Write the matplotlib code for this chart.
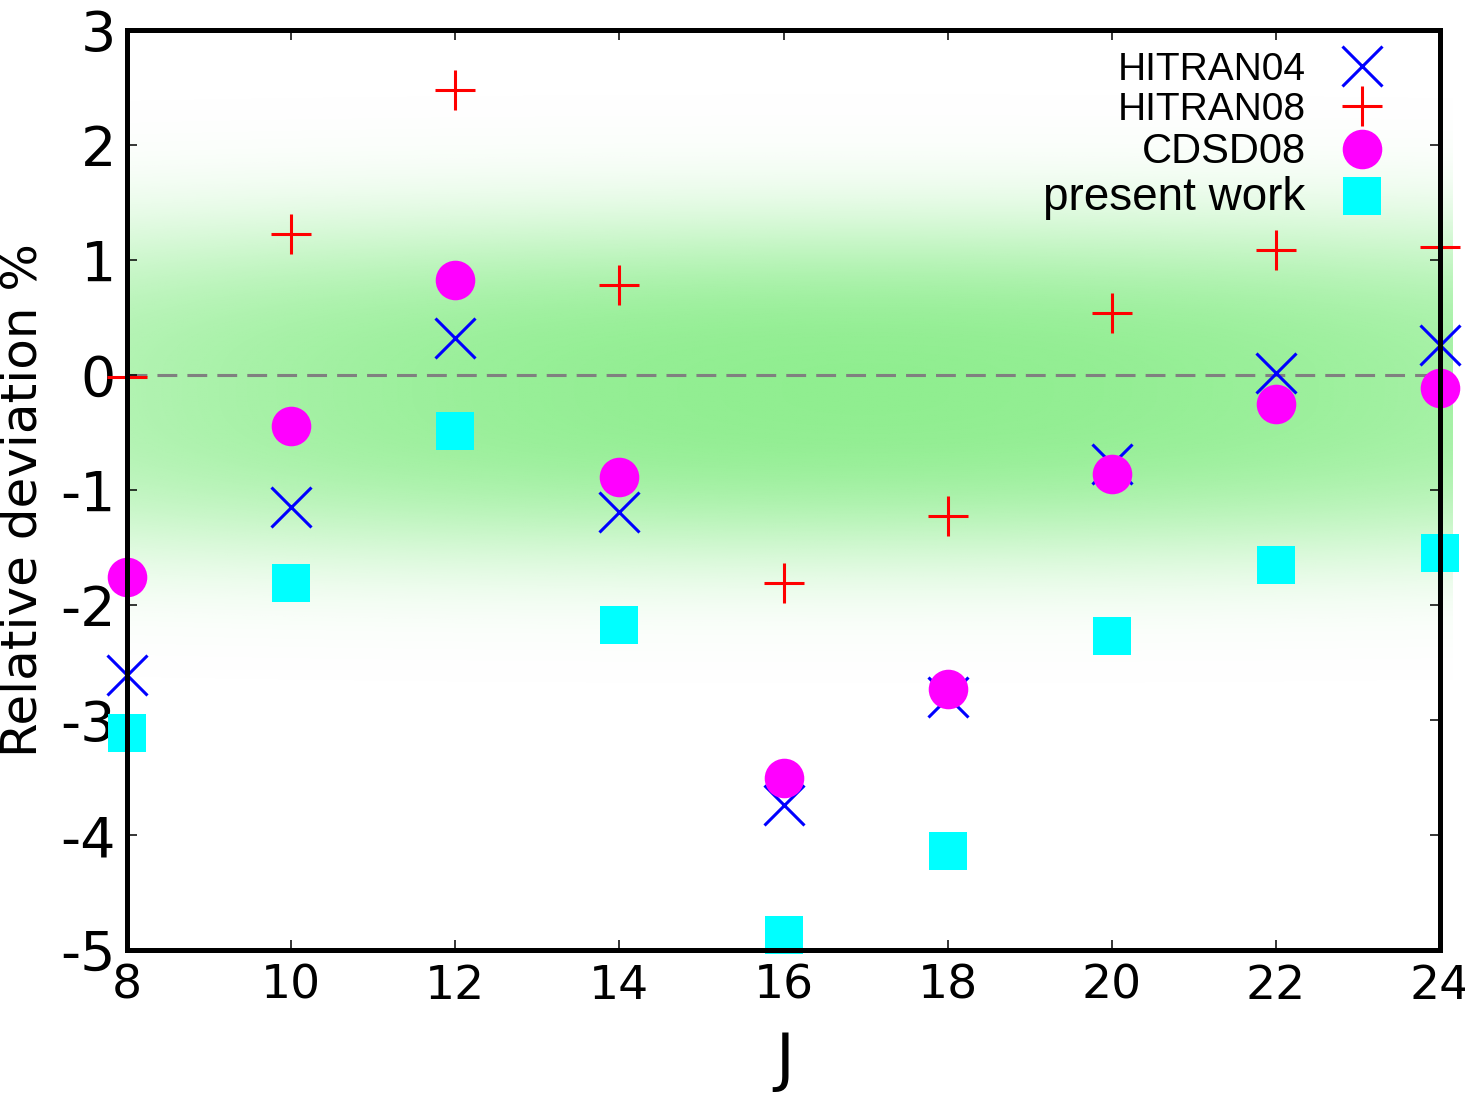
import numpy as np
import matplotlib
matplotlib.use('Agg')
import matplotlib.pyplot as plt
from matplotlib.colors import to_rgb

# data
J = [8, 10, 12, 14, 16, 18, 20, 22, 24]
hitran04 = [-2.61, -1.15, 0.32, -1.19, -3.74, -2.80, -0.77, 0.02, 0.26]
hitran08 = [-0.02, 1.23, 2.48, 0.78, -1.81, -1.23, 0.54, 1.09, 1.11]
cdsd08 = [-1.76, -0.44, 0.83, -0.89, -3.50, -2.73, -0.86, -0.25, -0.11]
present = [-3.11, -1.81, -0.49, -2.17, -4.87, -4.14, -2.27, -1.65, -1.55]

xticks = [8, 10, 12, 14, 16, 18, 20, 22, 24]
yticks = [-5, -4, -3, -2, -1, 0, 1, 2, 3]
ytick_labels = ['-5', '-4', '-3', '-2', '-1', '0', '1', '2', '3']


def main():
    fig = plt.figure(figsize=(14.65, 10.94), dpi=100)
    ax = fig.add_axes([0.0867, 0.1316, 0.8963, 0.841])

    # green glow behind the points
    gx = np.linspace(8, 24.15, 300)
    gy = np.linspace(-2.9, 2.7, 280)
    X, Y = np.meshgrid(gx, gy)
    d = np.abs(Y + 0.12)
    alpha = np.exp(-(d / 1.45) ** 3) * (1 - 0.3 * ((X - 17) / 9) ** 2)
    rgba = np.zeros(X.shape + (4,))
    rgba[..., :3] = to_rgb('#90ee90')
    rgba[..., 3] = np.clip(alpha, 0, 1)
    ax.imshow(rgba, extent=(8, 24.15, -2.9, 2.7), origin='lower', aspect='auto',
              interpolation='bilinear', zorder=0, clip_on=False)

    ax.axhline(0, color='gray', lw=2.2, dashes=(6.5, 3.3), zorder=1)

    ax.plot(J, hitran04, ls='none', marker='x', ms=28.8, mec='blue',
            mew=2.2, label='HITRAN04', clip_on=False, zorder=3)
    ax.plot(J, hitran08, ls='none', marker='+', ms=28.8, mec='red',
            mew=2.2, label='HITRAN08', clip_on=False, zorder=3)
    ax.plot(J, cdsd08, ls='none', marker='o', ms=28.5, mfc='magenta', mew=0,
            label='CDSD08', clip_on=False, zorder=3)
    ax.plot(J, present, ls='none', marker='s', ms=28, mfc='cyan', mew=0,
            label='present work', clip_on=False, zorder=3)

    ax.set_xlim(8, 24)
    ax.set_ylim(-5, 3)
    ax.set_xticks(xticks)
    ax.set_xticklabels([str(t) for t in xticks])
    ax.set_yticks(yticks)
    ax.set_yticklabels(ytick_labels)
    ax.tick_params(direction='in', length=7, width=1.1, top=True, right=True)
    ax.tick_params(axis='x', labelsize=34, pad=10)
    ax.tick_params(axis='y', labelsize=40, pad=8)
    for s in ax.spines.values():
        s.set_linewidth(3.6)
        s.set_zorder(4)

    ax.set_xlabel('J', fontsize=46)
    ax.xaxis.set_label_coords(0.501, -0.087)
    ax.xaxis.label.set_va('top')
    ax.set_ylabel('Relative deviation %', fontsize=36)
    ax.yaxis.set_label_coords(-0.061, 0.489)

    leg = ax.legend(loc='upper right', bbox_to_anchor=(0.9555, 0.976), frameon=False,
                    markerfirst=False, numpoints=1, handlelength=1.0, handletextpad=0.95,
                    labelspacing=0.1, borderpad=0, borderaxespad=0,
                    prop={'family': 'Liberation Sans', 'size': 28})
    # the last two labels are set a little larger in the original
    texts = leg.get_texts()
    texts[2].set_fontsize(30)
    texts[3].set_fontsize(33)
    leg.set_zorder(5)

    fig.savefig('out.png', dpi=100)


if __name__ == '__main__': main()
